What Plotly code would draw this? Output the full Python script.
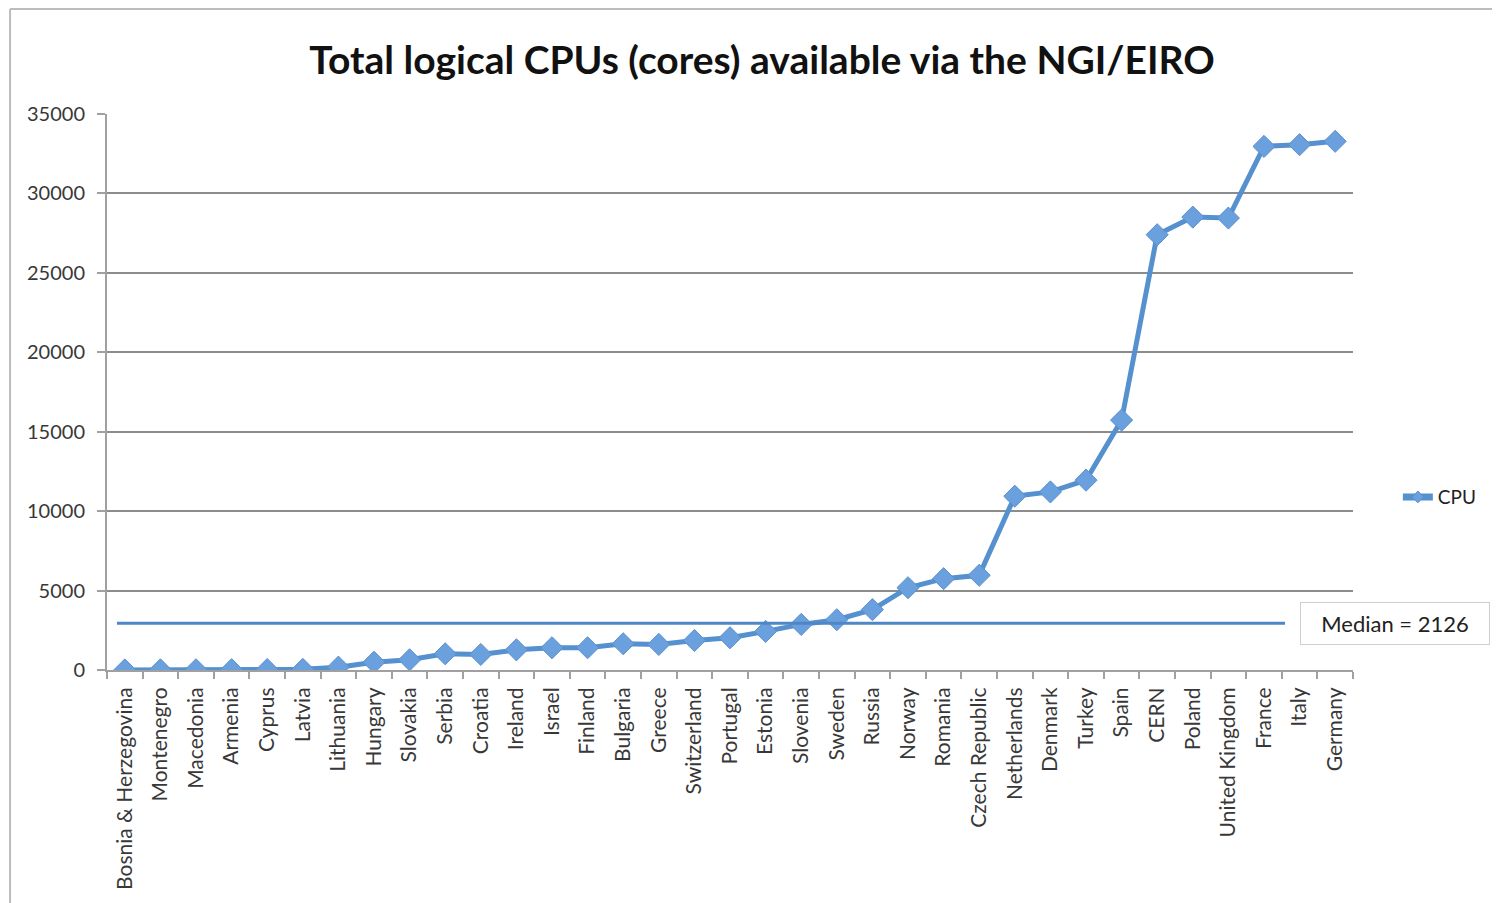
import plotly.graph_objects as go

countries = ["Bosnia & Herzegovina", "Montenegro", "Macedonia", "Armenia", "Cyprus", "Latvia",
             "Lithuania", "Hungary", "Slovakia", "Serbia", "Croatia", "Ireland", "Israel", "Finland",
             "Bulgaria", "Greece", "Switzerland", "Portugal", "Estonia", "Slovenia", "Sweden", "Russia",
             "Norway", "Romania", "Czech Republic", "Netherlands", "Denmark", "Turkey", "Spain", "CERN",
             "Poland", "United Kingdom", "France", "Italy", "Germany"]
cpu = [5, 10, 15, 20, 30, 40, 180, 490, 640, 1020, 980, 1270, 1400, 1400,
       1650, 1610, 1860, 2030, 2430, 2870, 3165, 3800, 5180, 5750, 5960, 10940,
       11210, 11950, 15730, 27400, 28510, 28450, 32960, 33070, 33280]
median_label = "Median = 2126"
median_line_value = 2950
y_ticks = [0, 5000, 10000, 15000, 20000, 25000, 30000, 35000]

font_family = "Lato, 'Open Sans', sans-serif"
line_color = "#5590cf"
marker_color = "#6aa0dd"

fig = go.Figure()
fig.add_trace(go.Scatter(
    x=countries, y=cpu, mode="lines+markers", name="CPU", showlegend=False,
    line=dict(color=line_color, width=5),
    marker=dict(symbol="diamond", size=17, color=marker_color, line=dict(color="#5a90cc", width=1)),
))
# legend entry (thick line with small diamond, as in the reference legend)
fig.add_trace(go.Scatter(
    x=[None], y=[None], mode="lines+markers", name="CPU", showlegend=True,
    line=dict(color=line_color, width=7),
    marker=dict(symbol="diamond", size=9, color=marker_color, line=dict(color="#5a90cc", width=1)),
))

n = len(countries)
# median line
fig.add_shape(type="line", xref="x", yref="y", x0=-0.22, x1=32.59,
              y0=median_line_value, y1=median_line_value,
              line=dict(color="#4f86c6", width=3))

# outer border (top & left)
fig.add_shape(type="line", xref="paper", yref="paper", x0=-0.0778, x1=1.2, y0=1.189, y1=1.189,
              line=dict(color="#bdbdbd", width=2))
fig.add_shape(type="line", xref="paper", yref="paper", x0=-0.0778, x1=-0.0778, y0=1.189, y1=-0.45,
              line=dict(color="#bdbdbd", width=2))

fig.add_annotation(text=median_label, xref="paper", yref="y", x=0.9575, y=median_line_value,
                   xanchor="left", yanchor="middle", showarrow=False,
                   width=186, height=39, align="center",
                   font=dict(family=font_family, size=22, color="#222222"),
                   bordercolor="#cfcfcf", borderwidth=1, borderpad=1, bgcolor="white")

fig.update_layout(
    width=1492, height=895,
    paper_bgcolor="white", plot_bgcolor="white",
    margin=dict(l=99, r=147, t=106, b=233),
    title=dict(text="<b>Total logical CPUs (cores) available via the NGI/EIRO</b>",
               x=(762 - 8) / 1492, xanchor="center", y=0.942, yanchor="middle",
               font=dict(family=font_family, size=39, color="#111111")),
    font=dict(family=font_family, size=19, color="#333333"),
    showlegend=True,
    legend=dict(x=1.036, y=0.311, xanchor="left", yanchor="middle",
                font=dict(family=font_family, size=19, color="#222222"),
                bgcolor="rgba(0,0,0,0)"),
)
fig.update_xaxes(type="category", range=[-0.5, n - 0.5], tickangle=-90,
                 showline=True, linecolor="#a0a0a0", linewidth=2,
                 ticks="outside", tickson="boundaries", ticklen=7, tickcolor="#a0a0a0", tickwidth=2,
                 showgrid=False, ticklabelstandoff=7, tickfont=dict(size=21, color="#383838"))
fig.update_yaxes(range=[0, 35000], tickvals=y_ticks, ticktext=[str(v) for v in y_ticks],
                 showline=True, linecolor="#a0a0a0", linewidth=2,
                 ticks="outside", ticklen=8, tickcolor="#a0a0a0", tickwidth=2,
                 showgrid=True, gridcolor="#8c8c8c", gridwidth=1.5,
                 zeroline=False, ticklabelstandoff=8, tickfont=dict(size=20, color="#383838"))

fig.write_html("out.html")
